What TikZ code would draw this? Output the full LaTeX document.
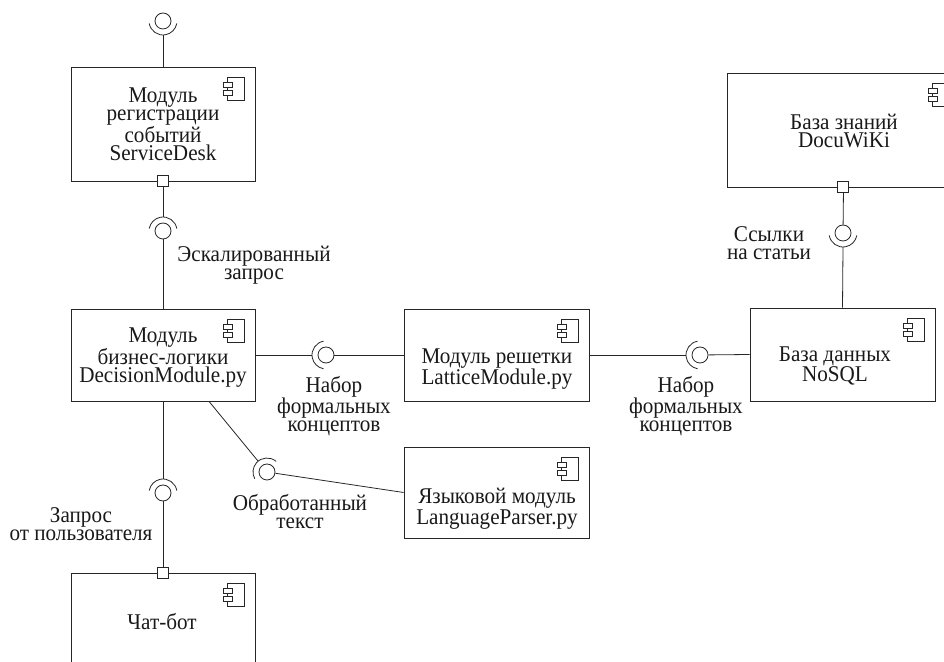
\documentclass[tikz,border=0pt]{standalone}
\usepackage{fontspec}
\setmainfont{Liberation Serif}[FakeStretch=0.94]
\usetikzlibrary{calc}
\usetikzlibrary{positioning}

\tikzset{
  comp/.style={draw=black!85, line width=.8pt, rectangle, inner sep=0pt},
  ctext/.style={align=center, font=\fontsize{22.5}{18}\selectfont, inner sep=0pt, text=black!90},
  ball/.style={draw=black!85, line width=.8pt, circle, minimum size=16pt, inner sep=0pt},
  port/.style={draw=black!85, line width=.8pt, fill=white, rectangle, minimum size=11pt, inner sep=0pt},
  wire/.style={draw=black!85, line width=.8pt},
}

\newcommand{\compicon}[1]{
  \draw[wire] ($(#1.north east)+(-11,-11)$) rectangle ++(-17,-23);
  \draw[wire, fill=white] ($(#1.north east)+(-32.5,-16)$) rectangle ++(9,-4.5);
  \draw[wire, fill=white] ($(#1.north east)+(-32.5,-24)$) rectangle ++(9,-4.5);
}
\newcommand{\sockarc}[2]{
  \draw[wire] (#1.center) ++(#2-80:14) arc[start angle=#2-80, end angle=#2+80, radius=14pt];
}

\begin{document}
\begin{tikzpicture}[x=1pt,y=1pt]
\useasboundingbox (0,0) rectangle (944,661);

\node[comp, minimum width=184pt, minimum height=114pt] (sd) at (163,537) {};
\node[comp, minimum width=184pt, minimum height=92pt] (dm) at (163,306) {};
\node[comp, minimum width=185pt, minimum height=92pt] (lm) at (496.5,306) {};
\node[comp, minimum width=185pt, minimum height=91pt] (lp) at (496.5,168.5) {};
\node[comp, minimum width=185pt, minimum height=93pt] (db) at (842.5,306.5) {};
\node[comp, minimum width=233pt, minimum height=114pt] (kb) at (843.5,531) {};
\node[comp, minimum width=184pt, minimum height=100pt] (cb) at (163,38) {};

\foreach \c in {sd,dm,lm,lp,db,kb,cb} {\compicon{\c}}

\node[ctext] (sdt) at (163,537) {Модуль\\регистрации\\событий\\ServiceDesk};
\node[ctext] (dmt) at (163,303) {Модуль\\бизнес-логики\\DecisionModule.py};
\node[ctext] (lmt) at (497,292) {Модуль решетки\\LatticeModule.py};
\node[ctext] (lpt) at (497,152) {Языковой модуль\\LanguageParser.py};
\node[ctext] (dbt) at (835,295) {База данных\\NoSQL};
\node[ctext] (kbt) at (844,530) {База знаний\\DocuWiKi};
\node[ctext] (cbt) at (162,39) {Чат-бот};

\node[ball] (b0) at (163,640) {};
\node[ball] (b1) at (163,430) {};
\node[ball] (b2) at (326,306) {};
\node[ball] (b3) at (700,306) {};
\node[ball] (b4) at (843,428) {};
\node[ball] (b5) at (163,168) {};
\node[ball] (b6) at (267,189) {};

\coordinate (dmo) at ([xshift=46pt]dm.south);

\sockarc{b0}{-90}
\sockarc{b1}{90}
\sockarc{b2}{180}
\sockarc{b3}{180}
\sockarc{b4}{-90}
\sockarc{b5}{90}
\sockarc{b6}{129.2}

\draw[wire] (sd.north) -- ($(b0)+(0,-14)$);
\draw[wire] (sd.south) -- ($(b1)+(0,14)$);
\draw[wire] (b1) -- (dm.north);
\draw[wire] (dm.east) -- ($(b2)+(-14,0)$);
\draw[wire] (b2) -- (lm.west);
\draw[wire] (lm.east) -- ($(b3)+(-14,0)$);
\draw[wire] (b3) -- (db.west);
\draw[wire] (kb.south) -- (b4);
\draw[wire] ($(b4)+(0,-14)$) -- (db.north);
\draw[wire] (dm.south) -- ($(b5)+(0,14)$);
\draw[wire] (b5) -- (cb.north);
\draw[wire] (dmo) -- ($(b6)!14pt!(dmo)$);
\draw[wire] (b6) -- (lp.west);

\node[port] (p1) at (sd.south) {};
\node[port] (p2) at (843,474) {};
\node[port] (p3) at (cb.north) {};

\node[ctext] (esc) at (254,396) {Эскалированный\\запрос};
\node[ctext] (nab1) at (334,255) {Набор\\формальных\\концептов};
\node[ctext] (nab2) at (686,255) {Набор\\формальных\\концептов};
\node[ctext] (ref) at (769,418) {Ссылки\\на статьи};
\node[ctext] (req) at (81,137) {Запрос\\от пользователя};
\node[ctext] (proc) at (300,149) {Обработанный\\текст};
\end{tikzpicture}
\end{document}
